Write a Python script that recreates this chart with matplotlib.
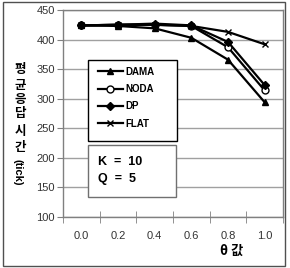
import matplotlib
matplotlib.use("Agg")
import matplotlib.pyplot as plt
from matplotlib.patches import Rectangle

plt.rcParams['font.family'] = ['Liberation Sans', 'Noto Sans CJK KR', 'DejaVu Sans']

theta = ['0.0', '0.2', '0.4', '0.6', '0.8', '1.0']
dama = [424, 423, 419, 403, 366, 294]
noda = [424, 425, 425, 423, 387, 314]
dp = [424, 425, 427, 424, 396, 323]
flat = [424, 425, 425, 423, 413, 392]

series = [
    ('DAMA', dama, dict(marker='^', markerfacecolor='black')),
    ('NODA', noda, dict(marker='o', markerfacecolor='white')),
    ('DP', dp, dict(marker='D', markerfacecolor='black', markersize=4)),
    ('FLAT', flat, dict(marker='x', markerfacecolor='black')),
]

fig = plt.figure(figsize=(2.9, 2.68), dpi=100)
ax = fig.add_axes([63 / 290, 1 - 217 / 268, 220 / 290, 207 / 268])

x = list(range(len(theta)))
for name, vals, style in series:
    kw = dict(color='black', linewidth=1.6, markersize=5,
              markeredgecolor='black', markeredgewidth=1.0)
    kw.update(style)
    ax.plot(x, vals, label=name, **kw)

ax.set_xlim(-0.5, len(theta) - 0.5)
ax.set_ylim(100, 450)
ax.set_yticks(range(100, 451, 50))
ax.set_xticks(x)
ax.set_xticklabels(theta)
ax.set_xticks([i - 0.5 for i in range(len(theta) + 1)], minor=True)
ax.tick_params(axis='x', which='major', length=0, pad=10, labelsize=8, labelcolor='#333333')
ax.tick_params(axis='x', which='minor', length=8, direction='inout', color='#808080')
ax.tick_params(axis='y', length=4, color='#808080', labelsize=8, labelcolor='#333333', pad=2)
ax.grid(axis='y', color='#a0a0a0', linewidth=1)
ax.set_axisbelow(True)
for s in ax.spines.values():
    s.set_color('#808080')
    s.set_linewidth(1)

# legend with a hand drawn frame
leg = ax.legend(loc='upper left', bbox_to_anchor=(0.14, 0.745), frameon=False,
                borderaxespad=0, handlelength=2.6, handletextpad=0.2,
                labelspacing=0.75, prop=dict(size=7, weight='bold'))
ax.add_patch(Rectangle((25 / 220, 1 - 131 / 207), 89 / 220, 81 / 207,
                       transform=ax.transAxes, fill=True, facecolor='white',
                       edgecolor='black', linewidth=1, zorder=2.5))

ax.add_patch(Rectangle((25 / 220, 1 - 187 / 207), 88 / 220, 52 / 207,
                       transform=ax.transAxes, facecolor='white',
                       edgecolor='#707070', linewidth=1, zorder=2.5))
ax.text(35 / 220, 1 - 152 / 207, 'K  =  10', transform=ax.transAxes,
        fontsize=9, fontweight='bold', va='center', zorder=4)
ax.text(35 / 220, 1 - 169 / 207, 'Q  =  5', transform=ax.transAxes,
        fontsize=9, fontweight='bold', va='center', zorder=4)

# axis titles
kr = ['Noto Sans CJK KR', 'DejaVu Sans']
fig.text(232 / 290, 1 - 251 / 268, 'θ 값', ha='center', va='center',
         fontsize=9.5, fontweight='bold', family=kr)
# vertical y label, one upright character per line
ylab_chars = ['평', '균', '응', '답', '시', '간']
ylab_pos = [70, 85, 100, 114, 132, 147]
for ch, yp in zip(ylab_chars, ylab_pos):
    fig.text(20 / 290, 1 - yp / 268, ch, ha='center', va='center',
             fontsize=9, fontweight='bold', family=kr)
fig.text(17 / 290, 1 - 172 / 268, '(tick)', ha='center', va='center', rotation=-90,
         fontsize=8, fontweight='bold')

fig.patches.append(Rectangle((3 / 290, 2 / 268), 282 / 290, 264 / 268,
                             transform=fig.transFigure, fill=False,
                             edgecolor='#505050', linewidth=1))

fig.savefig('out.png', dpi=100)
